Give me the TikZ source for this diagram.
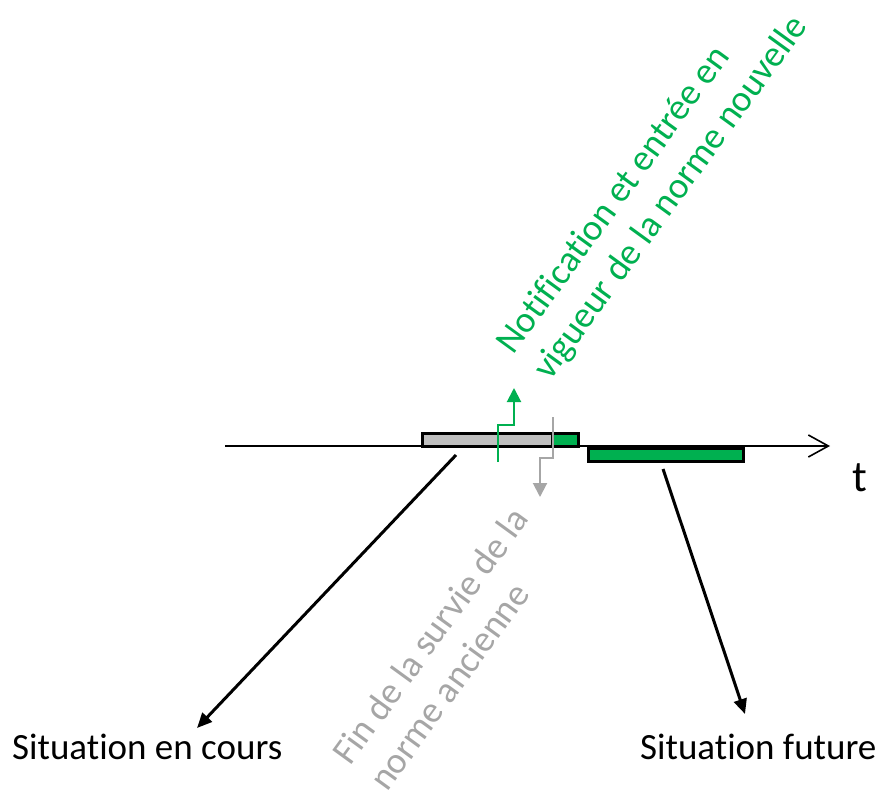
\documentclass[tikz,border=0pt]{standalone}
\usepackage{fontspec}
\setmainfont{Carlito}[Ligatures=CommonOff]
\usetikzlibrary{arrows.meta,positioning}
\definecolor{vert}{HTML}{00B050}
\definecolor{grisbarre}{HTML}{BFBFBF}
\definecolor{gristexte}{HTML}{A6A6A6}

\begin{document}
\begin{tikzpicture}[x=1pt,y=-1pt,
  barre/.style={draw,line width=3pt,inner sep=0pt,outer sep=0pt,minimum height=13pt},
  fleche/.style={line width=3pt,-{Triangle[length=15pt,width=13pt]}},
  marque/.style={line width=2pt,-{Triangle[length=14pt,width=14pt]}},
  etiq/.style={inner sep=0pt,font=\fontsize{37}{45}\selectfont},
  penche/.style={etiq,rotate=54,anchor=base west,align=left}]
\useasboundingbox (0,0) rectangle (882,800);

% axe du temps
\draw[line width=1.6pt,-{Straight Barb[length=20pt,width=22pt]}] (225,446) coordinate (t0) -- (830,446) coordinate (t1);
\node (t) [etiq,font=\fontsize{44}{50}\selectfont] at (860,478) {t};

\node (cur) [barre,fill=grisbarre,minimum width=130pt] at (487,440) {};
\node (vert1) [barre,fill=vert,minimum width=26pt,right=0pt of cur] {};
\node (fut) [barre,fill=vert,minimum width=155pt] at (666,455) {};

\coordinate (notif) at (498,462);
\draw[marque,vert] (notif) -- ++(0,-37) -- ++(16,0) -- ++(0,-37);
\coordinate (fin) at (553,417);
\draw[marque,gristexte] (fin) -- ++(0,41) -- ++(-13,0) -- ++(0,39);

% base = derniere ligne
\node (notiftxt) [penche,text=vert] at (550,382) {Notification et entrée en\\vigueur de la norme nouvelle};
\node (fintxt) [penche,text=gristexte] at (387,793) {Fin de la survie de la\\norme ancienne};

\node (cours) [etiq,anchor=base west] at (12,759) {Situation en cours};
\node (futur) [etiq,anchor=base west] at (640,759) {Situation future};

\coordinate (coursA) at (456,455);
\coordinate (coursB) at (197,728);
\draw[fleche] (coursA) -- (coursB);
\coordinate (futurA) at (663,469);
\coordinate (futurB) at (745,714);
\draw[fleche] (futurA) -- (futurB);
\end{tikzpicture}
\end{document}
